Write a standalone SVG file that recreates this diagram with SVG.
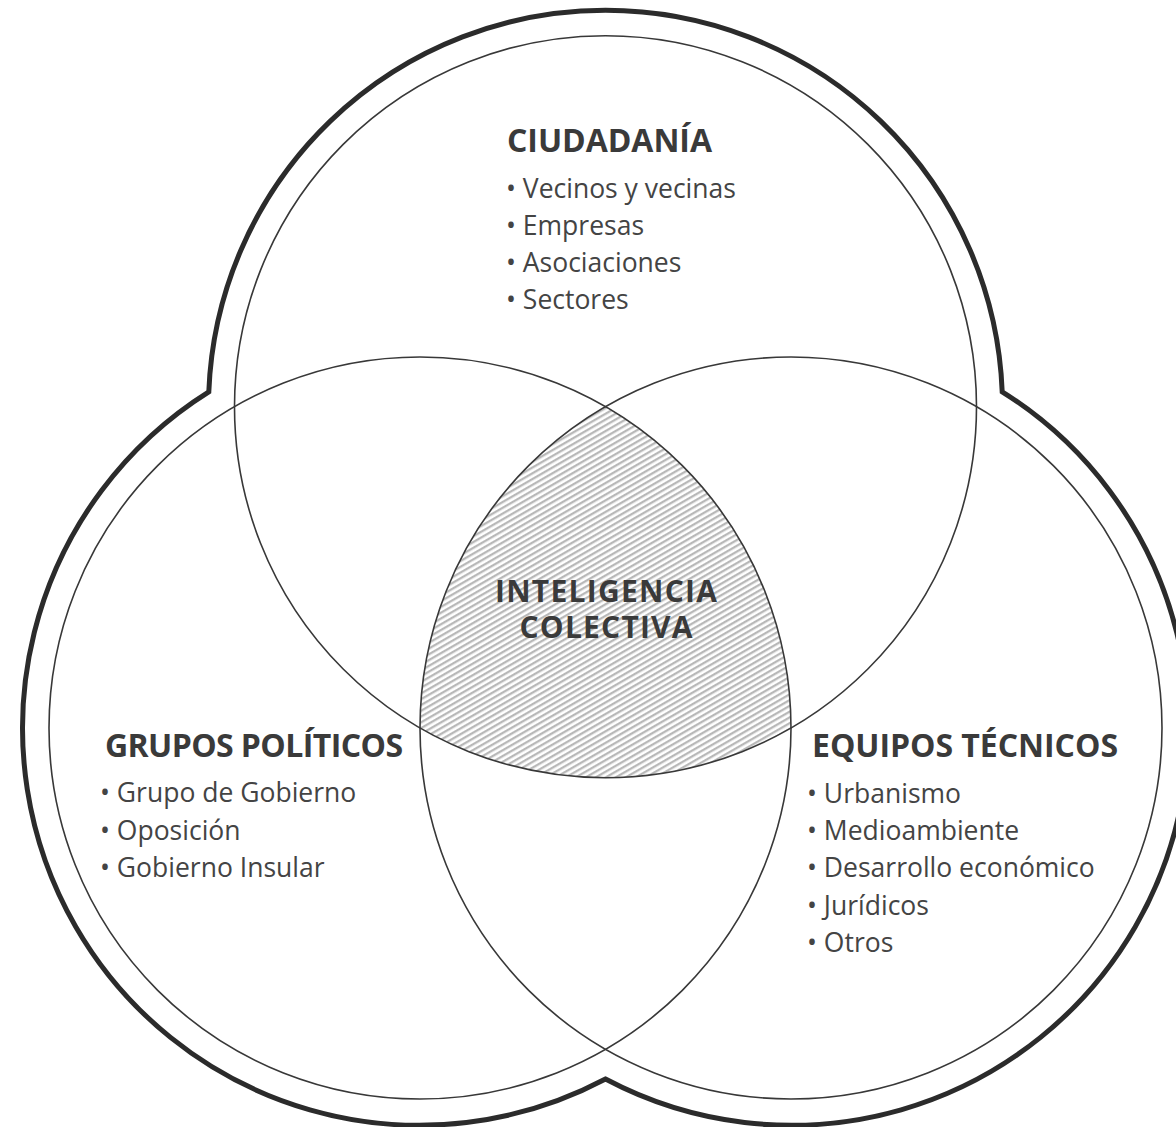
<svg xmlns="http://www.w3.org/2000/svg" width="1176" height="1127" viewBox="0 0 1176 1127">
  <defs>
    <pattern id="hatch" patternUnits="userSpaceOnUse" width="5" height="5" patternTransform="rotate(-30)">
      <rect width="5" height="5" fill="#ffffff"/>
      <rect width="5" height="2.3" fill="#b8b8b8"/>
    </pattern>
    <style>
      .ring { fill: none; stroke: #383838; stroke-width: 1.6; }
      .outline { fill: none; stroke: #2b2b2b; stroke-width: 5; stroke-linejoin: miter; }
      .head { font-family: "Open Sans", "Liberation Sans", sans-serif; font-weight: 700; font-size: 32px; fill: #3a3a3a; }
      .mid { font-size: 30px; text-anchor: middle; }
      .item { font-family: "Open Sans", "Liberation Sans", sans-serif; font-weight: 400; font-size: 26.5px; fill: #444444; }
    </style>
  </defs>
  <rect width="1176" height="1127" fill="#ffffff"/>

  <g id="outline">
    <path class="outline" d="M 605.5 1079 A 397 397 0 0 1 208.8 391.8 A 397 397 0 0 1 1002.2 391.8 A 397 397 0 0 1 605.5 1079 Z"/>
  </g>

  <g id="inteligencia-colectiva">
    <path d="M 605.5 406.7 A 371 371 0 0 1 791 728 A 371 371 0 0 1 420 728 A 371 371 0 0 1 605.5 406.7 Z" fill="url(#hatch)"/>
    <text class="head mid" x="606" y="602" textLength="222" lengthAdjust="spacing">INTELIGENCIA</text>
    <text class="head mid" x="606" y="638" textLength="173" lengthAdjust="spacing">COLECTIVA</text>
  </g>

  <g id="ciudadania">
    <circle class="ring" cx="605.5" cy="406.7" r="371"/>
    <text class="head" x="507" y="152" textLength="205" lengthAdjust="spacing">CIUDADANÍA</text>
    <text class="item" x="506" y="198">• Vecinos y vecinas</text>
    <text class="item" x="506" y="235">• Empresas</text>
    <text class="item" x="506" y="272">• Asociaciones</text>
    <text class="item" x="506" y="309">• Sectores</text>
  </g>

  <g id="grupos-politicos">
    <circle class="ring" cx="420" cy="728" r="371"/>
    <text class="head" x="105" y="757" textLength="298" lengthAdjust="spacing">GRUPOS POLÍTICOS</text>
    <text class="item" x="100" y="802">• Grupo de Gobierno</text>
    <text class="item" x="100" y="840">• Oposición</text>
    <text class="item" x="100" y="877">• Gobierno Insular</text>
  </g>

  <g id="equipos-tecnicos">
    <circle class="ring" cx="791" cy="728" r="371"/>
    <text class="head" x="812" y="757" textLength="306" lengthAdjust="spacing">EQUIPOS TÉCNICOS</text>
    <text class="item" x="807" y="803">• Urbanismo</text>
    <text class="item" x="807" y="840">• Medioambiente</text>
    <text class="item" x="807" y="877">• Desarrollo económico</text>
    <text class="item" x="807" y="915">• Jurídicos</text>
    <text class="item" x="807" y="952">• Otros</text>
  </g>

  <g id="connectors"></g>
</svg>
